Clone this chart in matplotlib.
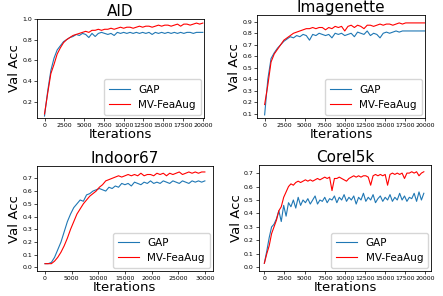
import matplotlib
matplotlib.use("Agg")
import matplotlib.pyplot as plt
import numpy as np

# iteration grids
it_20k = np.arange(0, 20001, 400)
it_30k = np.arange(0, 30001, 600)
it_corel = np.arange(0, 19801, 300)

aid_gap = [0.06, 0.3, 0.5, 0.62, 0.7, 0.74, 0.78, 0.8, 0.82, 0.83,
           0.85, 0.84, 0.86, 0.85, 0.82, 0.86, 0.83, 0.86, 0.87, 0.86,
           0.85, 0.86, 0.84, 0.87, 0.86, 0.87, 0.86, 0.87, 0.86, 0.87,
           0.86, 0.87, 0.86, 0.87, 0.85, 0.87, 0.86, 0.87, 0.86, 0.87,
           0.86, 0.87, 0.86, 0.87, 0.86, 0.87, 0.87, 0.86, 0.87, 0.87,
           0.87]
aid_mv = [0.08, 0.28, 0.47, 0.56, 0.66, 0.72, 0.77, 0.8, 0.82, 0.84,
          0.85, 0.86, 0.87, 0.88, 0.87, 0.89, 0.89, 0.9, 0.89, 0.9,
          0.9, 0.91, 0.9, 0.91, 0.92, 0.91, 0.92, 0.92, 0.91, 0.92,
          0.93, 0.92, 0.93, 0.93, 0.92, 0.93, 0.94, 0.93, 0.94, 0.94,
          0.93, 0.94, 0.95, 0.93, 0.95, 0.95, 0.94, 0.95, 0.96, 0.95,
          0.96]

img_gap = [0.09, 0.4, 0.58, 0.63, 0.67, 0.7, 0.73, 0.75, 0.77, 0.76,
           0.78, 0.77, 0.79, 0.78, 0.74, 0.79, 0.78, 0.8, 0.79, 0.78,
           0.79, 0.76, 0.8, 0.79, 0.8, 0.78, 0.79, 0.8, 0.77, 0.81,
           0.8, 0.79, 0.82, 0.78, 0.8, 0.79, 0.76, 0.8, 0.81, 0.8,
           0.81, 0.82, 0.81, 0.82, 0.82, 0.82, 0.82, 0.82, 0.82, 0.82,
           0.82]
img_mv = [0.18, 0.35, 0.55, 0.62, 0.66, 0.7, 0.74, 0.76, 0.78, 0.8,
          0.81, 0.82, 0.83, 0.84, 0.84, 0.85, 0.84, 0.85, 0.85, 0.83,
          0.85, 0.84, 0.86, 0.85, 0.86, 0.82, 0.86, 0.87, 0.85, 0.87,
          0.86, 0.84, 0.87, 0.87, 0.86, 0.87, 0.88, 0.87, 0.88, 0.88,
          0.87, 0.88, 0.89, 0.88, 0.89, 0.89, 0.89, 0.89, 0.89, 0.89,
          0.89]

ind_gap = [0.03, 0.03, 0.04, 0.08, 0.14, 0.2, 0.28, 0.36, 0.42, 0.47,
           0.5, 0.53, 0.52, 0.57, 0.58, 0.6, 0.61, 0.62, 0.61, 0.6,
           0.63, 0.62, 0.64, 0.63, 0.66, 0.65, 0.66, 0.64, 0.67, 0.66,
           0.65, 0.67, 0.66, 0.68, 0.66, 0.67, 0.66, 0.68, 0.67, 0.66,
           0.68, 0.67, 0.66, 0.68, 0.67, 0.66, 0.68, 0.67, 0.68, 0.67,
           0.68]
ind_mv = [0.03, 0.03, 0.03, 0.05, 0.08, 0.12, 0.17, 0.23, 0.3, 0.36,
          0.42, 0.46, 0.5, 0.53, 0.56, 0.58, 0.6, 0.63, 0.65, 0.68,
          0.69, 0.7, 0.71, 0.72, 0.71, 0.72, 0.73, 0.72, 0.73, 0.72,
          0.74, 0.72, 0.73, 0.73, 0.72, 0.74, 0.73, 0.74, 0.72, 0.74,
          0.73, 0.74, 0.75, 0.73, 0.74, 0.75, 0.74, 0.75, 0.74, 0.75,
          0.75]

cor_gap = [0.03, 0.12, 0.22, 0.3, 0.32, 0.36, 0.42, 0.34, 0.46, 0.38,
           0.48, 0.45, 0.5, 0.44, 0.52, 0.46, 0.5, 0.48, 0.51, 0.47,
           0.5, 0.53, 0.47, 0.5, 0.49, 0.52, 0.48, 0.51, 0.5, 0.53,
           0.48, 0.52, 0.5, 0.54, 0.49, 0.52, 0.5, 0.53, 0.47, 0.52,
           0.5, 0.55, 0.49, 0.52, 0.5, 0.54, 0.48, 0.51, 0.53, 0.49,
           0.52, 0.5, 0.54, 0.49, 0.52, 0.5, 0.55, 0.5, 0.53, 0.49,
           0.52, 0.51, 0.55, 0.49, 0.56, 0.5, 0.55]
cor_mv = [0.03, 0.1, 0.16, 0.25, 0.3, 0.35, 0.42, 0.45, 0.52, 0.56,
          0.6, 0.62, 0.61, 0.63, 0.64, 0.63, 0.64, 0.65, 0.64, 0.65,
          0.64, 0.65, 0.66, 0.65, 0.66, 0.67, 0.66, 0.67, 0.57, 0.66,
          0.66, 0.67, 0.66, 0.65, 0.64, 0.66, 0.67, 0.68, 0.67, 0.68,
          0.67, 0.68, 0.68, 0.67, 0.61, 0.68, 0.69, 0.68, 0.69, 0.68,
          0.69, 0.61, 0.69, 0.7, 0.69, 0.7, 0.69, 0.7, 0.66, 0.7,
          0.7, 0.71, 0.7, 0.71, 0.68, 0.7, 0.71]

panels = [
    # title, x, gap, mv, axes rect, xlim, ylim, xticks, yticks
    ("AID", it_20k, aid_gap, aid_mv, [0.0835, 0.601, 0.377, 0.335],
     (-950, 20150), (0.04, 1.0), np.arange(0, 20001, 2500), np.arange(0.2, 1.01, 0.2)),
    ("Imagenette", it_20k, img_gap, img_mv, [0.58, 0.601, 0.380, 0.348],
     (-960, 20050), (0.062, 0.958), np.arange(0, 20001, 2500), np.arange(0.1, 0.91, 0.1)),
    ("Indoor67", it_30k, ind_gap, ind_mv, [0.0835, 0.0834, 0.397, 0.355],
     (-1500, 31500), (-0.03, 0.795), np.arange(0, 30001, 5000), np.arange(0.0, 0.71, 0.1)),
    ("Corel5k", it_corel, cor_gap, cor_mv, [0.584, 0.0834, 0.390, 0.360],
     (-700, 20750), (-0.03, 0.762), np.arange(0, 20001, 2500), np.arange(0.0, 0.71, 0.1)),
]

fig = plt.figure(figsize=(4.43, 2.96), dpi=100)

for title, x, gap, mv, rect, xl, yl, xt, yt in panels:
    ax = fig.add_axes(rect)
    ax.plot(x, gap, color="#1f77b4", lw=0.8, label="GAP")
    ax.plot(x, mv, color="red", lw=0.8, label="MV-FeaAug")
    ax.set_xlim(*xl)
    ax.set_ylim(*yl)
    ax.set_xticks(xt)
    ax.set_yticks(np.round(yt, 1))
    ax.tick_params(labelsize=4.5, length=2, width=0.5, pad=1.5)
    for s in ax.spines.values():
        s.set_linewidth(0.6)
    ax.set_title(title, fontsize=11, pad=2)
    ax.set_xlabel("Iterations", fontsize=9.5, labelpad=0)
    ax.set_ylabel("Val Acc", fontsize=9.5, labelpad=1)
    ax.legend(loc="lower right", fontsize=7.5, handlelength=2.0,
              borderpad=0.5, borderaxespad=0.3)

fig.savefig("out.png", dpi=100)
